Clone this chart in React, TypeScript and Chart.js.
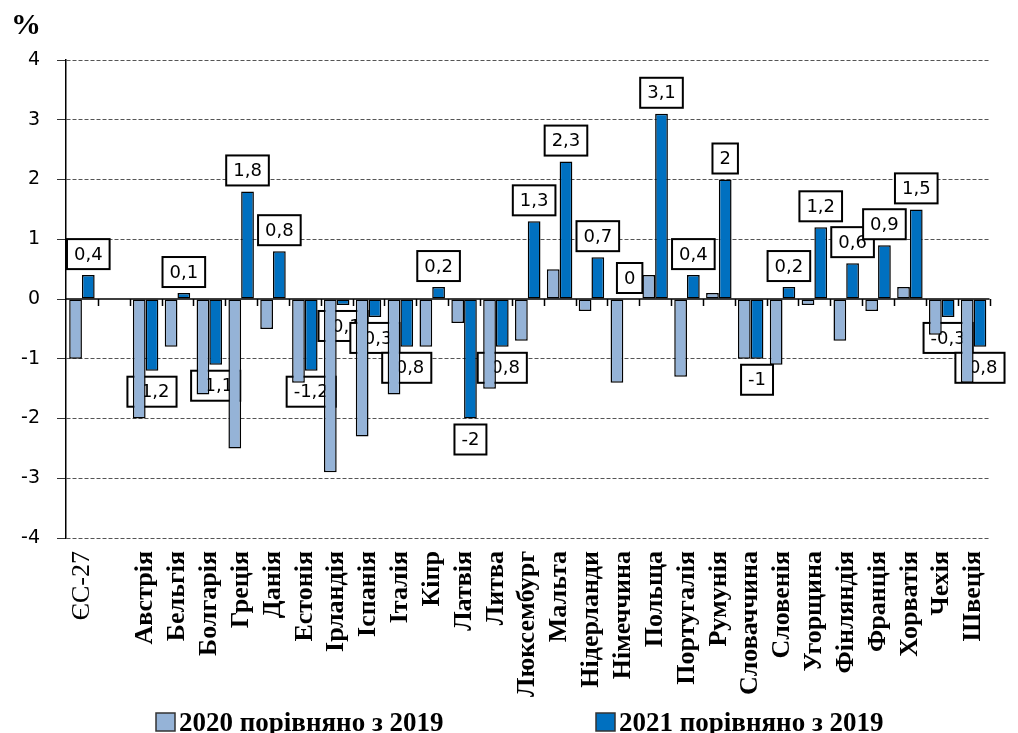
import React, { useEffect, useRef } from 'react';
import { Chart, registerables } from 'chart.js';

Chart.register(...registerables);

const categories: string[] = [
  'ЄС-27', '', 'Австрія', 'Бельгія', 'Болгарія', 'Греція', 'Данія', 'Естонія',
  'Ірландія', 'Іспанія', 'Італія', 'Кіпр', 'Латвія', 'Литва', 'Люксембург',
  'Мальта', 'Нідерланди', 'Німеччина', 'Польща', 'Португалія', 'Румунія',
  'Словаччина', 'Словенія', 'Угорщина', 'Фінляндія', 'Франція', 'Хорватія',
  'Чехія', 'Швеція',
];

const values2020: (number | null)[] = [
  -1.0, null, -2.0, -0.8, -1.6, -2.5, -0.5, -1.4, -2.9, -2.3, -1.6, -0.8, -0.4,
  -1.5, -0.7, 0.5, -0.2, -1.4, 0.4, -1.3, 0.1, -1.0, -1.1, -0.1, -0.7, -0.2,
  0.2, -0.6, -1.4,
];

const values2021: (number | null)[] = [
  0.4, null, -1.2, 0.1, -1.1, 1.8, 0.8, -1.2, -0.1, -0.3, -0.8, 0.2, -2, -0.8,
  1.3, 2.3, 0.7, 0, 3.1, 0.4, 2, -1, 0.2, 1.2, 0.6, 0.9, 1.5, -0.3, -0.8,
];

const seriesLabels = ['2020 порівняно з 2019', '2021 порівняно з 2019'];
const seriesColors = ['#95B3D7', '#0070C0'];
const yMin = -4;
const yMax = 4;
const yStep = 1;
const unitLabel = '%';

const fmt = (v: number) => String(v).replace('.', ',');

const overlayPlugin = {
  id: 'overlay',
  beforeDatasetsDraw(chart: any) {
    const ctx = chart.ctx;
    const { left, right } = chart.chartArea;
    const ys = chart.scales.y;
    const y0 = ys.getPixelForValue(0);
    const n = chart.data.labels.length;
    const step = (right - left) / n;
    ctx.save();
    ctx.strokeStyle = '#000';
    ctx.lineWidth = 1.5;
    ctx.setLineDash([]);
    ctx.beginPath();
    ctx.moveTo(left, y0);
    ctx.lineTo(right, y0);
    for (let i = 1; i <= n; i++) {
      const px = Math.round(left + step * i) + 0.5;
      ctx.moveTo(px, y0);
      ctx.lineTo(px, y0 + 7);
    }
    ctx.stroke();

    // data labels of the 2021 series
    const meta = chart.getDatasetMeta(1);
    const data = chart.data.datasets[1].data;
    ctx.font = '18px "DejaVu Sans"';
    ctx.textAlign = 'center';
    ctx.textBaseline = 'middle';
    meta.data.forEach((bar: any, i: number) => {
      const v = data[i];
      if (v === null || v === undefined) return;
      const txt = fmt(v);
      const w = ctx.measureText(txt).width + 14;
      const h = 30;
      const cx = bar.x;
      const cy = v >= 0 ? bar.y - 21 : bar.y + 21;
      ctx.fillStyle = '#fff';
      ctx.fillRect(cx - w / 2, cy - h / 2, w, h);
      ctx.strokeStyle = '#000';
      ctx.lineWidth = 2;
      ctx.strokeRect(cx - w / 2, cy - h / 2, w, h);
      ctx.fillStyle = '#000';
      ctx.fillText(txt, cx, cy + 1);
    });
    ctx.restore();
  },
  afterDraw(chart: any) {
    const ctx = chart.ctx;
    ctx.save();
    ctx.fillStyle = '#000';
    ctx.textAlign = 'left';
    ctx.textBaseline = 'alphabetic';
    ctx.font = 'bold 30px "Liberation Serif"';
    ctx.fillText(unitLabel, 11, 34);

    // legend
    const xs = [156, 596];
    chart.data.datasets.forEach((ds: any, i: number) => {
      const bx = xs[i];
      ctx.fillStyle = ds.backgroundColor;
      ctx.fillRect(bx, 713, 19, 18);
      ctx.strokeStyle = '#333';
      ctx.lineWidth = 1.5;
      ctx.strokeRect(bx, 713, 19, 18);
      ctx.fillStyle = '#000';
      ctx.font = 'bold 27px "Liberation Serif"';
      ctx.fillText(ds.label, bx + 23, 731);
    });
    ctx.restore();
  },
};

export default function App() {
  const canvasRef = useRef<HTMLCanvasElement | null>(null);

  useEffect(() => {
    if (!canvasRef.current) return;
    const chart = new Chart(canvasRef.current, {
      type: 'bar',
      data: {
        labels: categories,
        datasets: [
          {
            label: seriesLabels[0],
            data: values2020,
            backgroundColor: seriesColors[0],
            borderColor: '#000',
            borderWidth: 1.5,
            borderSkipped: false,
            categoryPercentage: 0.8,
            barPercentage: 1.0,
          },
          {
            label: seriesLabels[1],
            data: values2021,
            backgroundColor: seriesColors[1],
            borderColor: '#000',
            borderWidth: 1.5,
            borderSkipped: false,
            categoryPercentage: 0.8,
            barPercentage: 1.0,
          },
        ],
      },
      options: {
        animation: false,
        responsive: true,
        maintainAspectRatio: false,
        layout: { padding: { left: 0, right: 12, top: 60, bottom: 0 } },
        plugins: {
          legend: { display: false },
          tooltip: { enabled: false },
          title: { display: false },
        },
        scales: {
          x: {
            grid: { display: false, drawTicks: false },
            border: { display: false },
            ticks: {
              autoSkip: false,
              minRotation: 90,
              maxRotation: 90,
              padding: 13,
              color: '#000',
              font: (c: any) => ({
                family: '"Liberation Serif"',
                size: 26,
                weight: c.index === 0 ? 'normal' : 'bold',
              }),
            },
            afterFit: (s: any) => {
              s.height = 195;
            },
          },
          y: {
            min: yMin,
            max: yMax,
            ticks: {
              stepSize: yStep,
              padding: 17,
              color: '#000',
              font: { family: '"DejaVu Sans"', size: 19 },
              callback: (v: any) => String(v),
            },
            grid: {
              color: (c: any) => (c.tick && c.tick.value === 0 ? 'rgba(0,0,0,0)' : '#555'),
              lineWidth: 1,
              tickLength: 9,
              tickColor: '#333',
            },
            border: { display: true, color: '#000', width: 1.5, dash: [4, 2] },
            afterFit: (s: any) => {
              s.width = 66;
            },
          },
        },
      },
      plugins: [overlayPlugin],
    });
    return () => chart.destroy();
  }, []);

  return (
    <div style={{ position: 'fixed', left: 0, top: 0, width: 1018, height: 733, background: '#fff' }}>
      <canvas ref={canvasRef} />
    </div>
  );
}
